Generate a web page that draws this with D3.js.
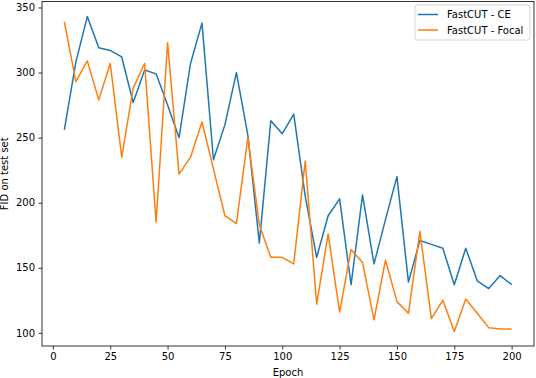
<!DOCTYPE html>
<html>
<head>
<meta charset="utf-8">
<script src="https://cdn.jsdelivr.net/npm/d3@7"></script>
<style>
  body { margin: 0; background: #fff; }
  .chart text { font-family: "DejaVu Sans", sans-serif; }
</style>
</head>
<body>
<div class="chart"></div>
<script>
const epochs = d3.range(5, 201, 5)

const ceFid = [
  256, 308, 343, 319, 317, 312, 277, 302, 299, 275,
  250, 307, 338, 233, 260, 300, 252, 169, 263, 253,
  268, 205, 158, 190, 203, 137, 206, 153, 187, 220,
  139, 171, 168, 165, 137, 165, 140, 134, 144, 137
]

const focalFid = [
  339, 293, 309, 279, 307, 235, 288, 307, 185, 323,
  222, 235, 262, 226, 190, 184, 250, 183, 158, 158,
  153, 232, 122, 176, 116, 164, 154, 110, 156, 124,
  115, 178, 111, 125, 101, 126, 115, 104, 103, 103
]

const seriesNames = ["FastCUT - CE", "FastCUT - Focal"]
const seriesColors = ["#1f77b4", "#ff7f0e"]
const xTicks = [0, 25, 50, 75, 100, 125, 150, 175, 200]
const yTicks = [100, 150, 200, 250, 300, 350]

const width = 536, height = 378
const margin = { top: 1.5, right: 2, bottom: 32, left: 42 }
const graphWidth = width - margin.left - margin.right
const graphHeight = height - margin.top - margin.bottom

const svg = d3.select(".chart").append("svg")
  .attr("width", width).attr("height", height)

const graph = svg.append("g")
  .attr("transform", `translate(${margin.left}, ${margin.top})`)

// matplotlib style 5% margins
const xScale = d3.scaleLinear().domain([-4.75, 209.75]).range([0, graphWidth])
const yScale = d3.scaleLinear().domain([89.9, 354.6]).range([graphHeight, 0])

const line = d3.line()
  .x((d, i) => xScale(epochs[i]))
  .y(d => yScale(d))

const allSeries = [ceFid, focalFid]

graph.selectAll(".series")
  .data(allSeries)
  .enter()
  .append("path")
  .attr("class", "series")
  .attr("fill", "none")
  .attr("stroke", (d, i) => seriesColors[i])
  .attr("stroke-width", 1.5)
  .attr("stroke-linejoin", "round")
  .attr("d", line)

const xAxis = d3.axisBottom(xScale).tickValues(xTicks).tickSize(3.5).tickPadding(3.5)
const yAxis = d3.axisLeft(yScale).tickValues(yTicks).tickSize(3.5).tickPadding(3.5)

const xAxisGroup = graph.append("g").attr("transform", `translate(0, ${graphHeight})`).call(xAxis)
const yAxisGroup = graph.append("g").call(yAxis)

for (const g of [xAxisGroup, yAxisGroup]) {
  g.select(".domain").remove()
  g.selectAll("line").attr("stroke", "#000").attr("stroke-width", 0.8)
  g.selectAll("text").attr("fill", "#000").style("font-size", "10px")
}

// frame
graph.append("rect")
  .attr("width", graphWidth).attr("height", graphHeight)
  .attr("fill", "none").attr("stroke", "#000").attr("stroke-width", 0.8)

svg.append("text")
  .attr("x", margin.left + graphWidth / 2)
  .attr("y", 376)
  .attr("text-anchor", "middle")
  .style("font-size", "10px")
  .text("Epoch")

svg.append("text")
  .attr("transform", `translate(8, ${margin.top + graphHeight / 2}) rotate(-90)`)
  .attr("text-anchor", "middle")
  .style("font-size", "10px")
  .text("FID on test set")

// legend
const legend = svg.append("g").attr("transform", "translate(415, 5)")
legend.append("rect")
  .attr("width", 115).attr("height", 35).attr("rx", 2)
  .attr("fill", "#fff").attr("fill-opacity", 0.8)
  .attr("stroke", "#ccc").attr("stroke-width", 0.8)

const items = legend.selectAll(".item")
  .data(seriesNames)
  .enter()
  .append("g")
  .attr("class", "item")
  .attr("transform", (d, i) => `translate(0, ${9.5 + i * 15.5})`)

items.append("line")
  .attr("x1", 3).attr("x2", 23)
  .attr("stroke", (d, i) => seriesColors[i])
  .attr("stroke-width", 1.5)

items.append("text")
  .attr("x", 32).attr("y", 3.5)
  .style("font-size", "10px")
  .text(d => d)
</script>
</body>
</html>
